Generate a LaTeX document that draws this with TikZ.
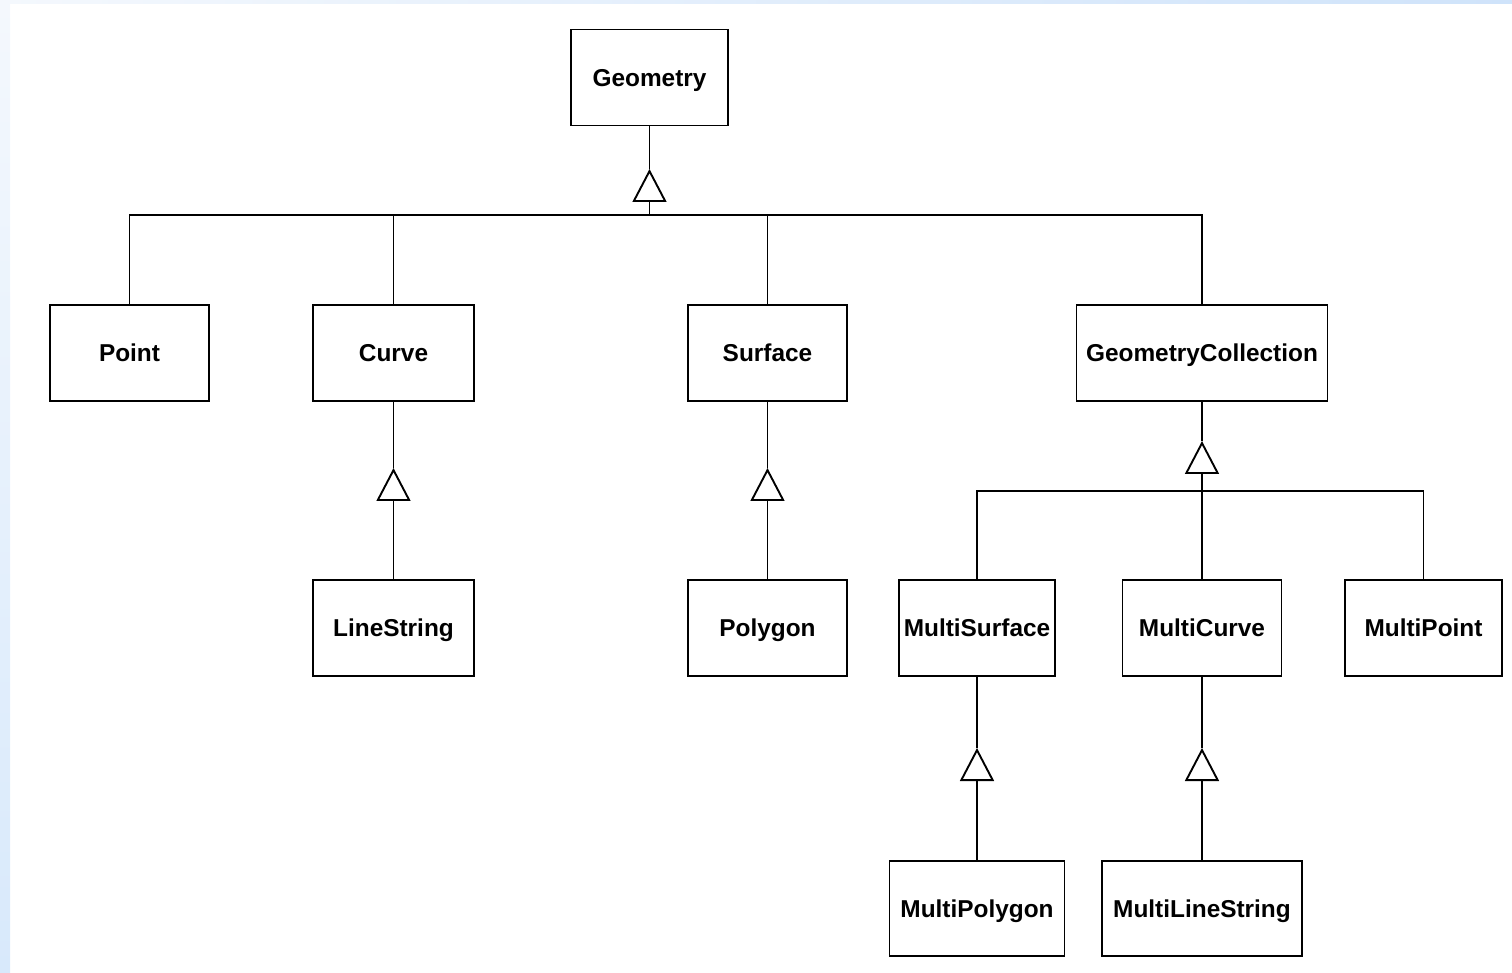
\documentclass[tikz,border=0pt]{standalone}
\usepackage{fontspec}
\setmainfont{Liberation Sans}
\usetikzlibrary{arrows.meta}
\definecolor{bgA}{HTML}{F4F8FD}
\definecolor{bgB}{HTML}{D8E9FB}
\definecolor{bgC}{HTML}{CFE3FA}
\tikzset{
  cls/.style={draw=black, line width=0.95pt, fill=white, inner sep=0pt,
    font=\fontsize{12.2}{14}\selectfont\bfseries, minimum height=48pt,
    text height=8.7pt, text depth=0pt},
  link/.style={draw=black, line width=0.95pt},
  inherit/.style={link, -{Triangle[open, length=16.5pt, width=17pt]}}
}
\begin{document}
\begin{tikzpicture}[x=0.5pt, y=-0.5pt]
\useasboundingbox (0,0) rectangle (1512,973);
% background strips
\shade[top color=bgA, bottom color=bgB] (0,0) rectangle (10,973);
\shade[left color=bgA, right color=bgC] (0,0) rectangle (1512,4);

% nodes
\node[cls, minimum width=78.5pt] (Geometry) at (649.5,77.5) {Geometry};
\node[cls, minimum width=79.5pt] (Point) at (129.5,353) {Point};
\node[cls, minimum width=80.5pt] (Curve) at (393.5,353) {Curve};
\node[cls, minimum width=79.5pt] (Surface) at (767.5,353) {Surface};
\node[cls, minimum width=125.5pt] (GC) at (1202,353) {GeometryCollection};
\node[cls, minimum width=80.5pt] (LineString) at (393.5,628) {LineString};
\node[cls, minimum width=79.5pt] (Polygon) at (767.5,628) {Polygon};
\node[cls, minimum width=78pt] (MultiSurface) at (977,628) {MultiSurface};
\node[cls, minimum width=79.5pt] (MultiCurve) at (1202,628) {MultiCurve};
\node[cls, minimum width=78.5pt] (MultiPoint) at (1423.5,628) {MultiPoint};
\node[cls, minimum width=87.5pt, minimum height=47.5pt] (MultiPolygon) at (977,908.5) {MultiPolygon};
\node[cls, minimum width=100pt, minimum height=47.5pt] (MultiLineString) at (1202,908.5) {MultiLineString};

% junction coordinates
\coordinate (tG) at (649.5,169);
\coordinate (busG) at (649.5,215);
\coordinate (tC) at (393.5,468);
\coordinate (tS) at (767.5,468);
\coordinate (tGC) at (1202,441);
\coordinate (busGC) at (1202,491);
\coordinate (tMS) at (977,748);
\coordinate (tMC) at (1202,748);

% Geometry hierarchy
\draw[link] (Point.north) |- (busG) -| (GC.north);
\draw[link] (Curve.north) -- (Curve.north |- busG);
\draw[link] (Surface.north) -- (Surface.north |- busG);
\draw[inherit] (busG) -- (tG);
\draw[link] (tG) -- (Geometry.south);

% Curve / Surface
\draw[inherit] (LineString.north) -- (tC);
\draw[link] (tC) -- (Curve.south);
\draw[inherit] (Polygon.north) -- (tS);
\draw[link] (tS) -- (Surface.south);

% GeometryCollection hierarchy
\draw[link] (MultiSurface.north) |- (busGC) -| (MultiPoint.north);
\draw[inherit] (MultiCurve.north) -- (tGC);
\draw[link] (tGC) -- (GC.south);

% Multi*
\draw[inherit] (MultiPolygon.north) -- (tMS);
\draw[link] (tMS) -- (MultiSurface.south);
\draw[inherit] (MultiLineString.north) -- (tMC);
\draw[link] (tMC) -- (MultiCurve.south);
\end{tikzpicture}
\end{document}
